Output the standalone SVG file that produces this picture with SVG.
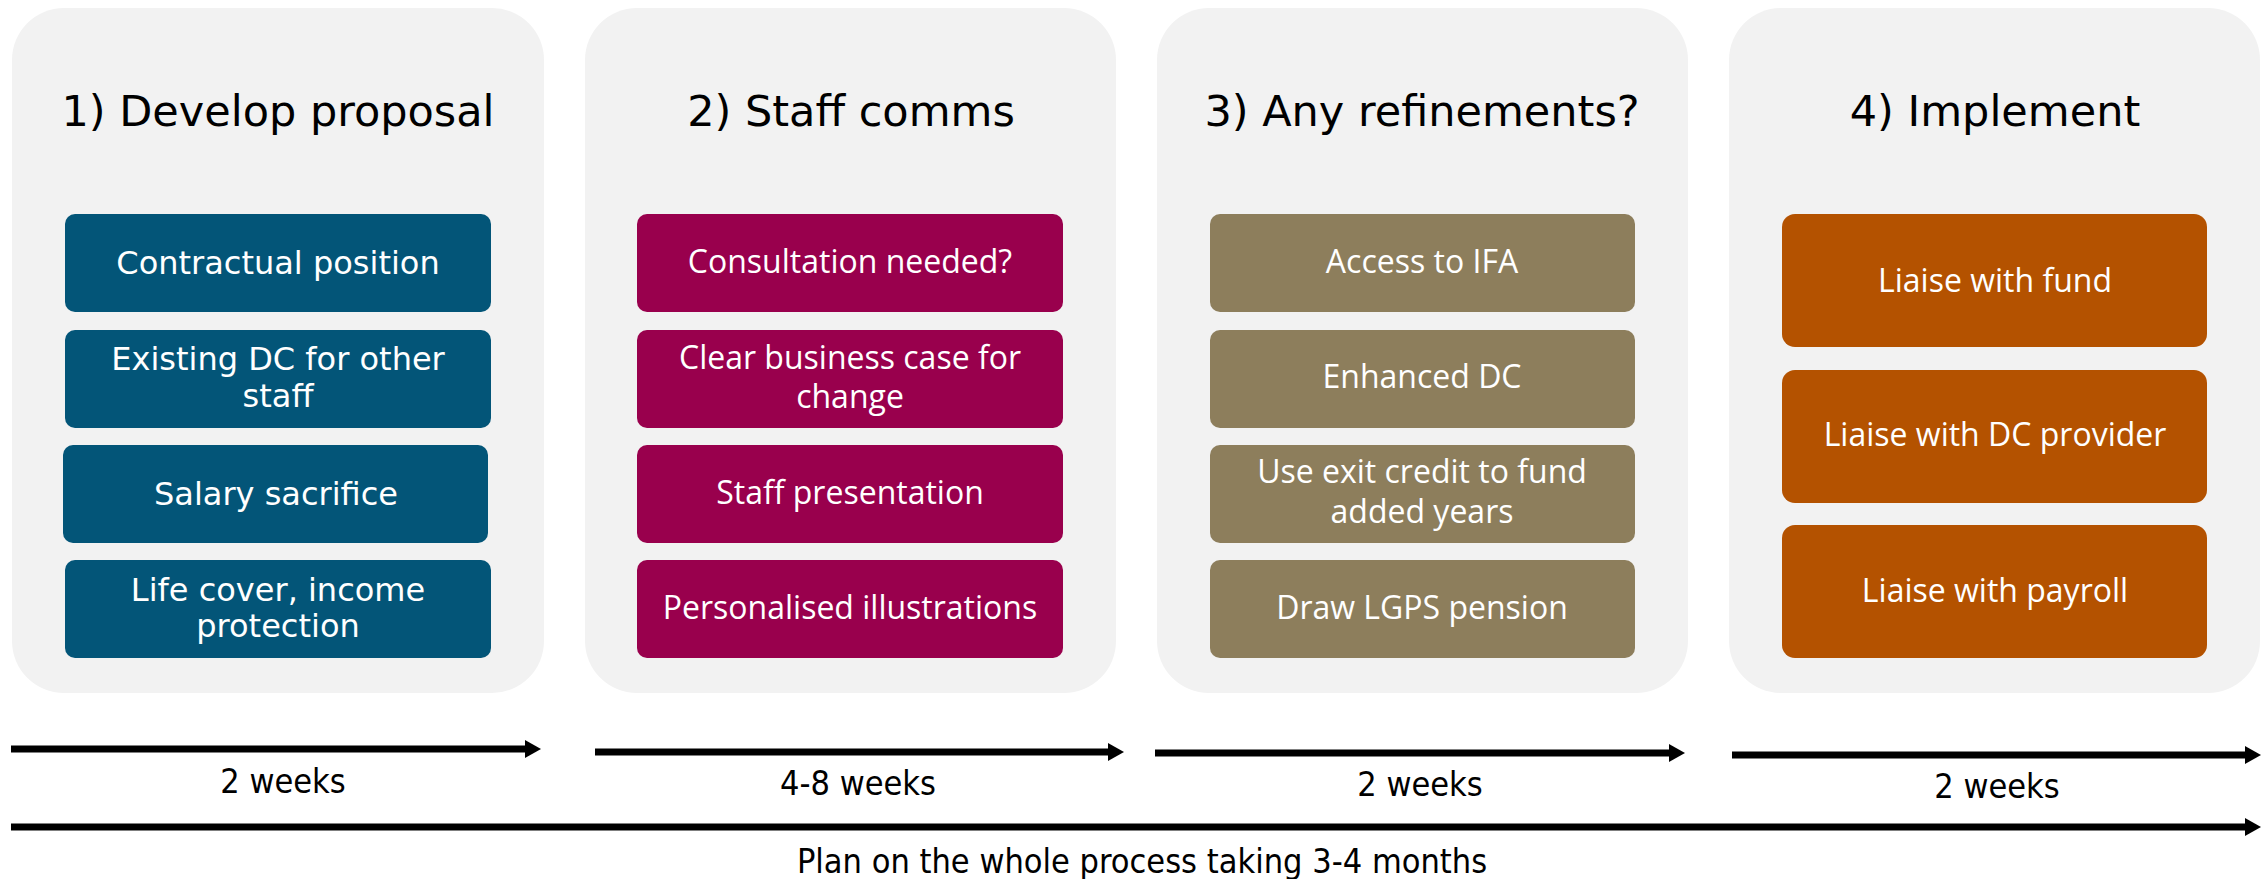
<svg xmlns="http://www.w3.org/2000/svg" width="2267" height="879" viewBox="0 0 2267 879">
  <style>
    .panel { fill: #f2f2f2; }
    .head { font-family: "DejaVu Sans", Verdana, sans-serif; font-size: 43px; fill: #000; text-anchor: middle; }
    .vt { font-family: "DejaVu Sans", Verdana, sans-serif; font-size: 32px; fill: #fff; text-anchor: middle; }
    .ot { font-family: "Open Sans", "Segoe UI", sans-serif; font-size: 32px; fill: #fff; text-anchor: middle; }
    .tl { font-family: "DejaVu Sans Condensed", "DejaVu Sans", sans-serif; font-stretch: condensed; font-size: 34px; fill: #000; text-anchor: middle; }
    .blue { fill: #035578; }
    .plum { fill: #99004d; }
    .khaki { fill: #8d7e5c; }
    .rust { fill: #b45200; }
    .arrow { stroke: #000; stroke-width: 7; fill: none; marker-end: url(#head); }
  </style>
  <defs>
    <marker id="head" markerUnits="userSpaceOnUse" markerWidth="16" markerHeight="18" viewBox="0 0 16 18" refX="0" refY="9" orient="auto">
      <path d="M0,0 L16,9 L0,18 z" fill="#000"/>
    </marker>
  </defs>

  <rect width="2267" height="879" fill="#fff"/>

  <!-- Stage 1 -->
  <g id="stage1">
    <rect class="panel" x="12" y="8" width="532" height="685" rx="52"/>
    <text class="head" x="278" y="126">1) Develop proposal</text>
    <g id="s1-contractual">
      <rect class="blue" x="65" y="214" width="426" height="98" rx="10"/>
      <text class="vt" x="278" y="274">Contractual position</text>
    </g>
    <g id="s1-existing-dc">
      <rect class="blue" x="65" y="330" width="426" height="98" rx="10"/>
      <text class="vt" x="278" y="370">Existing DC for other</text>
      <text class="vt" x="278" y="407">staff</text>
    </g>
    <g id="s1-salary">
      <rect class="blue" x="63" y="445" width="425" height="98" rx="10"/>
      <text class="vt" x="276" y="505">Salary sacrifice</text>
    </g>
    <g id="s1-life-cover">
      <rect class="blue" x="65" y="560" width="426" height="98" rx="10"/>
      <text class="vt" x="278" y="601">Life cover, income</text>
      <text class="vt" x="278" y="637">protection</text>
    </g>
  </g>

  <!-- Stage 2 -->
  <g id="stage2">
    <rect class="panel" x="585" y="8" width="531" height="685" rx="52"/>
    <text class="head" x="851" y="126">2) Staff comms</text>
    <g id="s2-consultation">
      <rect class="plum" x="637" y="214" width="426" height="98" rx="10"/>
      <text class="ot" x="850" y="273">Consultation needed?</text>
    </g>
    <g id="s2-business-case">
      <rect class="plum" x="637" y="330" width="426" height="98" rx="10"/>
      <text class="ot" x="850" y="369">Clear business case for</text>
      <text class="ot" x="850" y="408">change</text>
    </g>
    <g id="s2-presentation">
      <rect class="plum" x="637" y="445" width="426" height="98" rx="10"/>
      <text class="ot" x="850" y="504">Staff presentation</text>
    </g>
    <g id="s2-illustrations">
      <rect class="plum" x="637" y="560" width="426" height="98" rx="10"/>
      <text class="ot" x="850" y="619">Personalised illustrations</text>
    </g>
  </g>

  <!-- Stage 3 -->
  <g id="stage3">
    <rect class="panel" x="1157" y="8" width="531" height="685" rx="52"/>
    <text class="head" x="1422" y="126">3) Any refinements?</text>
    <g id="s3-ifa">
      <rect class="khaki" x="1210" y="214" width="425" height="98" rx="10"/>
      <text class="ot" x="1422" y="273">Access to IFA</text>
    </g>
    <g id="s3-enhanced-dc">
      <rect class="khaki" x="1210" y="330" width="425" height="98" rx="10"/>
      <text class="ot" x="1422" y="388">Enhanced DC</text>
    </g>
    <g id="s3-exit-credit">
      <rect class="khaki" x="1210" y="445" width="425" height="98" rx="10"/>
      <text class="ot" x="1422" y="483">Use exit credit to fund</text>
      <text class="ot" x="1422" y="523">added years</text>
    </g>
    <g id="s3-lgps">
      <rect class="khaki" x="1210" y="560" width="425" height="98" rx="10"/>
      <text class="ot" x="1422" y="619">Draw LGPS pension</text>
    </g>
  </g>

  <!-- Stage 4 -->
  <g id="stage4">
    <rect class="panel" x="1729" y="8" width="531" height="685" rx="52"/>
    <text class="head" x="1995" y="126">4) Implement</text>
    <g id="s4-fund">
      <rect class="rust" x="1782" y="214" width="425" height="133" rx="13"/>
      <text class="ot" x="1995" y="292">Liaise with fund</text>
    </g>
    <g id="s4-dc-provider">
      <rect class="rust" x="1782" y="370" width="425" height="133" rx="13"/>
      <text class="ot" x="1995" y="446">Liaise with DC provider</text>
    </g>
    <g id="s4-payroll">
      <rect class="rust" x="1782" y="525" width="425" height="133" rx="13"/>
      <text class="ot" x="1995" y="602">Liaise with payroll</text>
    </g>
  </g>

  <!-- Timeline connectors -->
  <g id="timeline">
    <line class="arrow" x1="11" y1="749" x2="525" y2="749"/>
    <line class="arrow" x1="595" y1="752" x2="1108" y2="752"/>
    <line class="arrow" x1="1155" y1="753" x2="1669" y2="753"/>
    <line class="arrow" x1="1732" y1="755" x2="2245" y2="755"/>
    <line class="arrow" x1="11" y1="827" x2="2245" y2="827"/>
    <text class="tl" x="283" y="793">2 weeks</text>
    <text class="tl" x="858" y="795">4-8 weeks</text>
    <text class="tl" x="1420" y="796">2 weeks</text>
    <text class="tl" x="1997" y="798">2 weeks</text>
    <text class="tl" x="1142" y="873">Plan on the whole process taking 3-4 months</text>
  </g>
</svg>
